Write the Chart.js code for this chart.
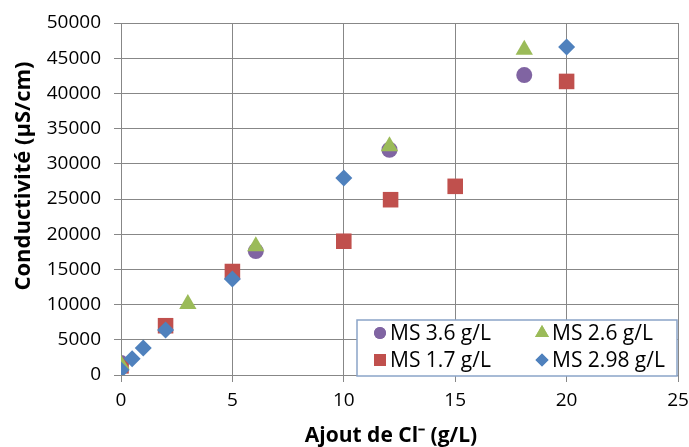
<!DOCTYPE html>
<html><head><meta charset="utf-8">
<script src="https://cdn.jsdelivr.net/npm/chart.js@4/dist/chart.umd.min.js"></script>
<style>html,body{margin:0;padding:0;background:#fff}#wrap{width:689px;height:447px}</style>
</head><body><div id="wrap"><canvas id="c" width="689" height="447"></canvas></div>
<script>
const seriesNames = ["MS 3.6 g/L", "MS 2.6 g/L", "MS 1.7 g/L", "MS 2.98 g/L"];
const ms36X = [0, 6.05, 12.05, 18.1];
const ms36Y = [1700, 17600, 32000, 42600];
const ms26X = [0, 3, 6.05, 12.05, 18.1];
const ms26Y = [1500, 10100, 18300, 32500, 46200];
const ms17X = [0, 2, 5, 10, 12.1, 15, 20];
const ms17Y = [1300, 7000, 14700, 19000, 24900, 26800, 41700];
const ms298X = [0, 0.5, 1, 2, 5, 10, 20];
const ms298Y = [700, 2300, 3850, 6400, 13650, 28000, 46600];
const xTicks = [0, 5, 10, 15, 20, 25];
const yTicks = [0, 5000, 10000, 15000, 20000, 25000, 30000, 35000, 40000, 45000, 50000];
const xTitle = 'Ajout de Cl⁻ (g/L)';
const yTitle = 'Conductivité (µS/cm)';

const pts = (xs, ys) => xs.map((x, i) => ({x, y: ys[i]}));
const FONT = "'Open Sans', sans-serif";
const GRID = '#878787';

const datasets = [
  {label: seriesNames[0], data: pts(ms36X, ms36Y), pointStyle: 'circle', pointRadius: 8, backgroundColor: '#8064A2', borderColor: '#8064A2', order: 3, lr: 6},
  {label: seriesNames[1], data: pts(ms26X, ms26Y), pointStyle: 'triangle', pointRadius: 10, backgroundColor: '#9BBB59', borderColor: '#9BBB59', order: 1, lr: 8},
  {label: seriesNames[2], data: pts(ms17X, ms17Y), pointStyle: 'rect', pointRadius: 11, backgroundColor: '#C0504D', borderColor: '#C0504D', order: 2, lr: 8.5},
  {label: seriesNames[3], data: pts(ms298X, ms298Y), pointStyle: 'rectRot', pointRadius: 8.5, backgroundColor: '#4F81BD', borderColor: '#4F81BD', order: 0, lr: 6.5}
];
datasets.forEach(d => { d.borderWidth = 0; d.pointHoverRadius = d.pointRadius; d.showLine = false; });

const extrasPlugin = {
  id: 'extras',
  afterDraw(chart) {
    const ctx = chart.ctx;
    ctx.save();
    // axis titles
    ctx.fillStyle = '#000';
    ctx.textAlign = 'center';
    ctx.textBaseline = 'middle';
    ctx.font = 'bold 21px ' + FONT;
    ctx.fillText(xTitle, 391, 436);
    ctx.save();
    ctx.translate(24, 176);
    ctx.rotate(-Math.PI / 2);
    ctx.font = 'bold 22px ' + FONT;
    ctx.fillText(yTitle, 0, 0);
    ctx.restore();
    // legend box
    const bx = 357, by = 320, bw = 320, bh = 56;
    ctx.fillStyle = '#fff';
    ctx.fillRect(bx, by, bw, bh);
    ctx.strokeStyle = '#8AA4C8';
    ctx.lineWidth = 1.5;
    ctx.strokeRect(bx, by, bw, bh);
    const items = [
      {ds: 0, x: 380, y: 333}, {ds: 1, x: 542, y: 333},
      {ds: 2, x: 380, y: 360}, {ds: 3, x: 542, y: 360}
    ];
    ctx.font = '21px ' + FONT;
    ctx.textAlign = 'left';
    items.forEach(it => {
      const d = chart.data.datasets[it.ds];
      ctx.fillStyle = d.backgroundColor;
      Chart.helpers.drawPoint(ctx, {pointStyle: d.pointStyle, radius: d.lr, borderWidth: 0, rotation: 0}, it.x, it.y);
      ctx.fill();
      ctx.fillStyle = '#000';
      ctx.fillText(d.label, it.x + 10, it.y + 1);
    });
    ctx.restore();
  }
};

new Chart(document.getElementById('c'), {
  type: 'scatter',
  data: {datasets},
  options: {
    responsive: false,
    animation: false,
    layout: {padding: {top: 23, right: 8, left: 0, bottom: 0}},
    plugins: {legend: {display: false}, tooltip: {enabled: false}},
    scales: {
      x: {
        type: 'linear', min: 0, max: 25,
        afterBuildTicks: s => { s.ticks = xTicks.map(v => ({value: v})); },
        afterFit: s => { s.height = 72; s.paddingRight = 0; s.paddingLeft = 0; },
        grid: {color: GRID, lineWidth: 1, tickLength: 7, drawTicks: true},
        border: {color: GRID, width: 1},
        ticks: {color: '#000', font: {size: 19, family: FONT}, padding: 7, maxRotation: 0, callback: v => String(v)}
      },
      y: {
        type: 'linear', min: 0, max: 50000,
        afterBuildTicks: s => { s.ticks = yTicks.map(v => ({value: v})); },
        afterFit: s => { s.width = 121; s.paddingTop = 0; s.paddingBottom = 0; },
        grid: {color: GRID, lineWidth: 1, tickLength: 7},
        border: {color: GRID, width: 1},
        ticks: {color: '#000', font: {size: 19, family: FONT}, padding: 13, callback: v => String(v)}
      }
    }
  },
  plugins: [extrasPlugin]
});
</script></body></html>
